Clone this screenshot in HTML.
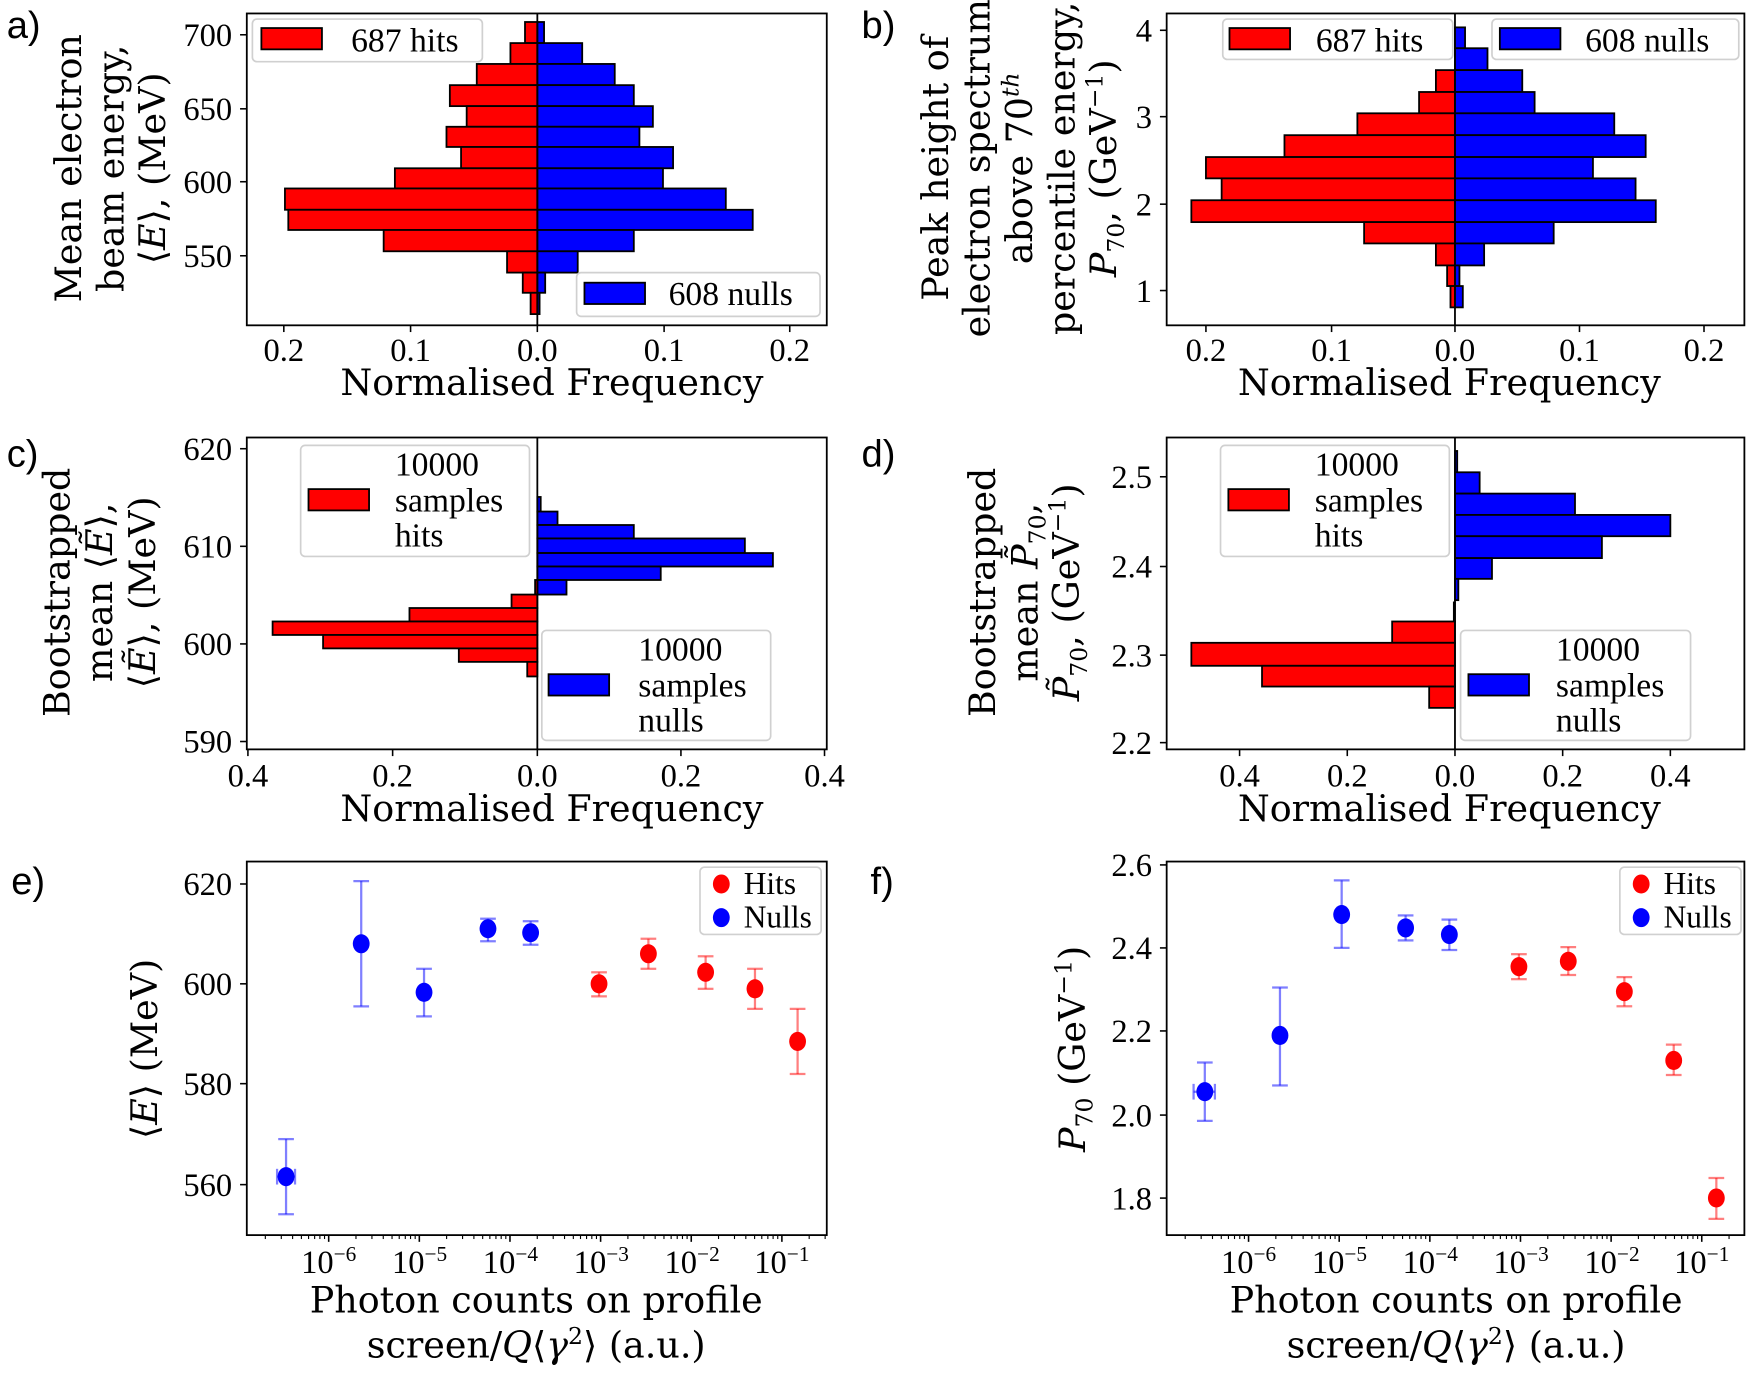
<!DOCTYPE html>
<html><head><meta charset="utf-8">
<style>
html,body{margin:0;padding:0;background:#fff;}
svg{display:block;}
.t{font-family:"Liberation Serif","DejaVu Serif",serif;font-size:29px;fill:#000;}
.l{font-family:"DejaVu Serif","Liberation Serif",serif;font-size:32.5px;fill:#000;}
.lg{font-family:"Liberation Serif","DejaVu Serif",serif;font-size:30px;fill:#000;}
.p{font-family:"Liberation Sans","DejaVu Sans",sans-serif;font-size:34px;fill:#000;}
</style></head><body>
<svg id="s" width="1750" height="1375" viewBox="0 0 1560 1225.7" preserveAspectRatio="none" xmlns="http://www.w3.org/2000/svg">
<rect width="1560" height="1226" fill="#fff"/>
<g id="g"></g>
<text class="p" x="6" y="34">a)</text>
<text class="p" x="768" y="34">b)</text>
<text class="p" x="6" y="416">c)</text>
<text class="p" x="768" y="416">d)</text>
<text class="p" x="10" y="797">e)</text>
<text class="p" x="776" y="797">f)</text>

<g class="t" text-anchor="end">
<text x="207" y="41">700</text><text x="207" y="107">650</text><text x="207" y="172">600</text><text x="207" y="238">550</text>
</g>
<g class="t" text-anchor="middle">
<text x="253" y="322">0.2</text><text x="366" y="322">0.1</text><text x="479" y="322">0.0</text><text x="592" y="322">0.1</text><text x="704" y="322">0.2</text>
</g>
<text class="l" x="492" y="352" text-anchor="middle">Normalised Frequency</text>
<g class="l" text-anchor="middle">
<text transform="translate(72,150) rotate(-90)">Mean electron</text>
<text transform="translate(110,150) rotate(-90)">beam energy,</text>
<text transform="translate(147,150) rotate(-90)">⟨<tspan font-style="italic">E</tspan>⟩, (MeV)</text>
</g>

<g class="t" text-anchor="end">
<text x="1027" y="37">4</text><text x="1027" y="114">3</text><text x="1027" y="192">2</text><text x="1027" y="269">1</text>
</g>
<g class="t" text-anchor="middle">
<text x="1075" y="322">0.2</text><text x="1187" y="322">0.1</text><text x="1297" y="322">0.0</text><text x="1408" y="322">0.1</text><text x="1519" y="322">0.2</text>
</g>
<text class="l" x="1292" y="352" text-anchor="middle">Normalised Frequency</text>
<g class="l" text-anchor="middle">
<text transform="translate(845,150) rotate(-90)">Peak height of</text>
<text transform="translate(882,150) rotate(-90)">electron spectrum</text>
<text transform="translate(920,150) rotate(-90)">above 70<tspan font-style="italic" font-size="21" dy="-12">th</tspan></text>
<text transform="translate(958,150) rotate(-90)">percentile energy,</text>
<text transform="translate(995,150) rotate(-90)"><tspan font-style="italic">P</tspan><tspan font-size="21" dy="7">70</tspan><tspan dy="-7">, (GeV</tspan><tspan font-size="21" dy="-12">−1</tspan><tspan dy="12">)</tspan></text>
</g>

<g class="t" text-anchor="end">
<text x="207" y="410">620</text><text x="207" y="497">610</text><text x="207" y="584">600</text><text x="207" y="671">590</text>
</g>
<g class="t" text-anchor="middle">
<text x="221" y="701">0.4</text><text x="350" y="701">0.2</text><text x="479" y="701">0.0</text><text x="607" y="701">0.2</text><text x="735" y="701">0.4</text>
</g>
<text class="l" x="492" y="732" text-anchor="middle">Normalised Frequency</text>
<g class="l" text-anchor="middle">
<text transform="translate(62,528) rotate(-90)">Bootstrapped</text>
<text transform="translate(100,528) rotate(-90)">mean ⟨<tspan font-style="italic">Ẽ</tspan>⟩,</text>
<text transform="translate(138,528) rotate(-90)">⟨<tspan font-style="italic">Ẽ</tspan>⟩, (MeV)</text>
</g>

<g class="t" text-anchor="end">
<text x="1027" y="435">2.5</text><text x="1027" y="515">2.4</text><text x="1027" y="594">2.3</text><text x="1027" y="672">2.2</text>
</g>
<g class="t" text-anchor="middle">
<text x="1105" y="701">0.4</text><text x="1201" y="701">0.2</text><text x="1297" y="701">0.0</text><text x="1393" y="701">0.2</text><text x="1489" y="701">0.4</text>
</g>
<text class="l" x="1292" y="732" text-anchor="middle">Normalised Frequency</text>
<g class="l" text-anchor="middle">
<text transform="translate(887,528) rotate(-90)">Bootstrapped</text>
<text transform="translate(925,528) rotate(-90)">mean <tspan font-style="italic">P̃</tspan><tspan font-size="21" dy="7">70</tspan><tspan dy="-7">,</tspan></text>
<text transform="translate(962,528) rotate(-90)"><tspan font-style="italic">P̃</tspan><tspan font-size="21" dy="7">70</tspan><tspan dy="-7">, (GeV</tspan><tspan font-size="21" dy="-12">−1</tspan><tspan dy="12">)</tspan></text>
</g>

<g class="t" text-anchor="end">
<text x="207" y="798">620</text><text x="207" y="887">600</text><text x="207" y="976">580</text><text x="207" y="1066">560</text>
</g>
<g class="l" text-anchor="middle">
<text x="478" y="1170">Photon counts on profile</text>
<text x="478" y="1210">screen/<tspan font-style="italic">Q</tspan>⟨<tspan font-style="italic">γ</tspan><tspan font-size="21" dy="-12">2</tspan><tspan dy="12">⟩ (a.u.)</tspan></text>
<text transform="translate(140,935) rotate(-90)">⟨<tspan font-style="italic">E</tspan>⟩ (MeV)</text>
</g>

<g class="t" text-anchor="end">
<text x="1027" y="781">2.6</text><text x="1027" y="855">2.4</text><text x="1027" y="929">2.2</text><text x="1027" y="1004">2.0</text><text x="1027" y="1078">1.8</text>
</g>
<g class="l" text-anchor="middle">
<text x="1298" y="1170">Photon counts on profile</text>
<text x="1298" y="1210">screen/<tspan font-style="italic">Q</tspan>⟨<tspan font-style="italic">γ</tspan><tspan font-size="21" dy="-12">2</tspan><tspan dy="12">⟩ (a.u.)</tspan></text>
<text transform="translate(967,935) rotate(-90)"><tspan font-style="italic">P</tspan><tspan font-size="21" dy="7">70</tspan><tspan dy="-7"> (GeV</tspan><tspan font-size="21" dy="-12">−1</tspan><tspan dy="12">)</tspan></text>
</g>

<g class="t" text-anchor="middle">
<text x="293" y="1135">10<tspan font-size="19" dy="-11">−6</tspan></text>
<text x="374" y="1135">10<tspan font-size="19" dy="-11">−5</tspan></text>
<text x="455" y="1135">10<tspan font-size="19" dy="-11">−4</tspan></text>
<text x="536" y="1135">10<tspan font-size="19" dy="-11">−3</tspan></text>
<text x="617" y="1135">10<tspan font-size="19" dy="-11">−2</tspan></text>
<text x="697" y="1135">10<tspan font-size="19" dy="-11">−1</tspan></text>
<text x="1113" y="1135">10<tspan font-size="19" dy="-11">−6</tspan></text>
<text x="1194" y="1135">10<tspan font-size="19" dy="-11">−5</tspan></text>
<text x="1275" y="1135">10<tspan font-size="19" dy="-11">−4</tspan></text>
<text x="1356" y="1135">10<tspan font-size="19" dy="-11">−3</tspan></text>
<text x="1437" y="1135">10<tspan font-size="19" dy="-11">−2</tspan></text>
<text x="1517" y="1135">10<tspan font-size="19" dy="-11">−1</tspan></text>
</g>

<g id="leg"></g>
<g class="lg">
<text x="313" y="46">687 hits</text>
<text x="596" y="272">608 nulls</text>
<text x="1173" y="46">687 hits</text>
<text x="1413" y="46">608 nulls</text>
<text x="352" y="424">10000</text><text x="352" y="456">samples</text><text x="352" y="487">hits</text>
<text x="569" y="589">10000</text><text x="569" y="621">samples</text><text x="569" y="652">nulls</text>
<text x="1172" y="424">10000</text><text x="1172" y="456">samples</text><text x="1172" y="487">hits</text>
<text x="1387" y="589">10000</text><text x="1387" y="621">samples</text><text x="1387" y="652">nulls</text>
<text x="663" y="797" font-size="28">Hits</text><text x="663" y="827" font-size="28">Nulls</text>
<text x="1483" y="797" font-size="28">Hits</text><text x="1483" y="827" font-size="28">Nulls</text>
</g>
</svg>
<script>
var g=document.getElementById('g'),NS='http://www.w3.org/2000/svg';
function el(n,a,p){var e=document.createElementNS(NS,n);for(var k in a)e.setAttribute(k,a[k]);(p||g).appendChild(e);return e;}
function bar(z,x,y1,y2,c){var a=Math.min(z,x),w=Math.abs(x-z);if(w<0.5)w=0.8;el('rect',{x:a,y:y1,width:w,height:y2-y1,fill:c,stroke:'#000','stroke-width':1.6});}
function axes(x0,y0,x1,y1){el('rect',{x:x0,y:y0,width:x1-x0,height:y1-y0,fill:'none',stroke:'#000','stroke-width':1.6});}
function tx(xs,y){xs.forEach(function(x){el('line',{x1:x,y1:y,x2:x,y2:y+6,stroke:'#000','stroke-width':1.4});});}
function ty(ys,x){ys.forEach(function(y){el('line',{x1:x-6,y1:y,x2:x,y2:y,stroke:'#000','stroke-width':1.4});});}
var ea=[19.6,38.4,57,75.9,94.6,113,131,150,168,187,205,224,243,261,280];
var ra=[468,455,425,401,416,398,411,352,254,257,342,452,466,473];
var ba=[485,519,548,565,582,570,600,591,647,671,565,515,486,481];
for(var i=0;i<14;i++){bar(479,ra[i],ea[i],ea[i+1],'#ff0000');bar(479,ba[i],ea[i],ea[i+1],'#0000ff');}
el('line',{x1:479,y1:12,x2:479,y2:290,stroke:'#000','stroke-width':1.6});
axes(220,12,737,290);tx([253,366,479,592,704],290);ty([31,97,162,228],220);
var eb=[24.4,43,62.5,82,101,120.5,140,159,178.5,198,217,236.6,255,274];
var rb=[1297,1297,1280,1265,1210,1145,1075,1089,1062,1216,1280,1290,1293];
var bb=[1306,1326,1357,1368,1439,1467,1420,1458,1476,1385,1323,1301,1304];
for(i=0;i<13;i++){if(i>1)bar(1297,rb[i],eb[i],eb[i+1],'#ff0000');bar(1297,bb[i],eb[i],eb[i+1],'#0000ff');}
el('line',{x1:1297,y1:12,x2:1297,y2:290,stroke:'#000','stroke-width':1.6});
axes(1040,12,1555,290);tx([1075,1187,1297,1408,1519],290);ty([27,104,182,259],1040);
var ec=[443,456,468,480,493,505,517,530];var bc=[482,497,565,664,689,589,505];
for(i=0;i<7;i++)bar(479,bc[i],ec[i],ec[i+1],'#0000ff');
var erc=[517,530,542,554,566,578,590,603];var rc=[477,456,365,243,288,409,470];
for(i=0;i<7;i++)bar(479,rc[i],erc[i],erc[i+1],'#ff0000');
el('line',{x1:479,y1:390,x2:479,y2:668,stroke:'#000','stroke-width':1.6});
axes(220,390,737,668);tx([221,350,479,607,735],668);ty([400,487,574,661],220);
var ed=[402,421,440,459,478,497.5,516,535];var bd=[1299,1319,1404,1489,1428,1330,1300];
for(i=0;i<7;i++)bar(1297,bd[i],ed[i],ed[i+1],'#0000ff');
var erd=[537,554,573,593.5,612,631];var rd=[1296,1241,1062,1125,1274];
for(i=0;i<5;i++)bar(1297,rd[i],erd[i],erd[i+1],'#ff0000');
el('line',{x1:1297,y1:390,x2:1297,y2:668,stroke:'#000','stroke-width':1.6});
axes(1040,390,1555,668);tx([1105,1201,1297,1393,1489],668);ty([425,505,584,662],1040);
function logticks(x0,d0,yb,xmin,xmax){
 for(var e=-8;e<=0;e++){for(var m=1;m<10;m++){var x=x0+(e+6+Math.log10(m))*80.8;if(x<xmin||x>xmax)continue;
  el('line',{x1:x,y1:yb,x2:x,y2:yb+(m==1?6:3.5),stroke:'#000','stroke-width':m==1?1.4:1});}}}
function pt(x,y,lo,hi,c,xl,xh){var ec=c=='b'?'rgba(0,0,255,0.5)':'rgba(255,0,0,0.5)',fc=c=='b'?'#0000ff':'#ff0000';
 el('line',{x1:x,y1:lo,x2:x,y2:hi,stroke:ec,'stroke-width':2});
 el('line',{x1:x-7,y1:lo,x2:x+7,y2:lo,stroke:ec,'stroke-width':2});el('line',{x1:x-7,y1:hi,x2:x+7,y2:hi,stroke:ec,'stroke-width':2});
 if(xl){el('line',{x1:xl,y1:y,x2:xh,y2:y,stroke:ec,'stroke-width':2});el('line',{x1:xl,y1:y-7,x2:xl,y2:y+7,stroke:ec,'stroke-width':2});el('line',{x1:xh,y1:y-7,x2:xh,y2:y+7,stroke:ec,'stroke-width':2});}
 el('ellipse',{cx:x,cy:y,rx:7.5,ry:8.5,fill:fc});}
function ye(v){return 877-(v-600)*4.465;}
axes(220,768,737,1101);logticks(293,0,1101,221,736);ty([788,877,966,1056],220);
pt(255,ye(561.5),ye(554),ye(569),'b',247,263);pt(322,ye(608),ye(595.5),ye(620.5),'b');pt(378,ye(598.3),ye(593.5),ye(603),'b');
pt(435,ye(611),ye(608.5),ye(613),'b');pt(473,ye(610.2),ye(607.8),ye(612.5),'b');
pt(534,ye(600),ye(597.5),ye(602.3),'r');pt(578,ye(606),ye(603),ye(609),'r');pt(629,ye(602.3),ye(599),ye(605.5),'r');
pt(673,ye(599),ye(595),ye(603),'r');pt(711,ye(588.5),ye(582),ye(595),'r');
function yf(v){return 845-(v-2.4)*371.5;}
axes(1040,768,1555,1101);logticks(1113,0,1101,1041,1554);ty([771,845,919,994,1068],1040);
pt(1074,yf(2.055),yf(1.985),yf(2.125),'b',1064,1083);pt(1141,yf(2.19),yf(2.07),yf(2.305),'b');pt(1196,yf(2.48),yf(2.4),yf(2.562),'b');
pt(1253,yf(2.448),yf(2.418),yf(2.478),'b');pt(1292,yf(2.432),yf(2.395),yf(2.468),'b');
pt(1354,yf(2.355),yf(2.325),yf(2.385),'r');pt(1398,yf(2.368),yf(2.335),yf(2.402),'r');pt(1448,yf(2.295),yf(2.26),yf(2.33),'r');
pt(1492,yf(2.13),yf(2.095),yf(2.168),'r');pt(1530,yf(1.8),yf(1.75),yf(1.848),'r');
var L=document.getElementById('leg');
function box(x,y,w,h){el('rect',{x:x,y:y,width:w,height:h,rx:4,fill:'rgba(255,255,255,0.8)',stroke:'#d0d0d0','stroke-width':1.5},L);}
function patch(x,y,c){el('rect',{x:x,y:y,width:54,height:19,fill:c,stroke:'#000','stroke-width':1.6},L);}
box(225,17,205,38);patch(233,25,'#ff0000');
box(514,243,217,39);patch(521,252,'#0000ff');
box(1090,17,205,36);patch(1096,25,'#ff0000');
box(1330,17,220,36);patch(1337,25,'#0000ff');
box(268,397,204,99);patch(275,436,'#ff0000');
box(483,562,204,98);patch(489,601,'#0000ff');
box(1088,397,204,99);patch(1095,436,'#ff0000');
box(1302,562,205,98);patch(1309,601,'#0000ff');
box(624,773,108,60);el('ellipse',{cx:643,cy:788,rx:7.5,ry:8.5,fill:'#ff0000'},L);el('ellipse',{cx:643,cy:818,rx:7.5,ry:8.5,fill:'#0000ff'},L);
box(1444,773,108,60);el('ellipse',{cx:1463,cy:788,rx:7.5,ry:8.5,fill:'#ff0000'},L);el('ellipse',{cx:1463,cy:818,rx:7.5,ry:8.5,fill:'#0000ff'},L);
</script>
</body></html>
